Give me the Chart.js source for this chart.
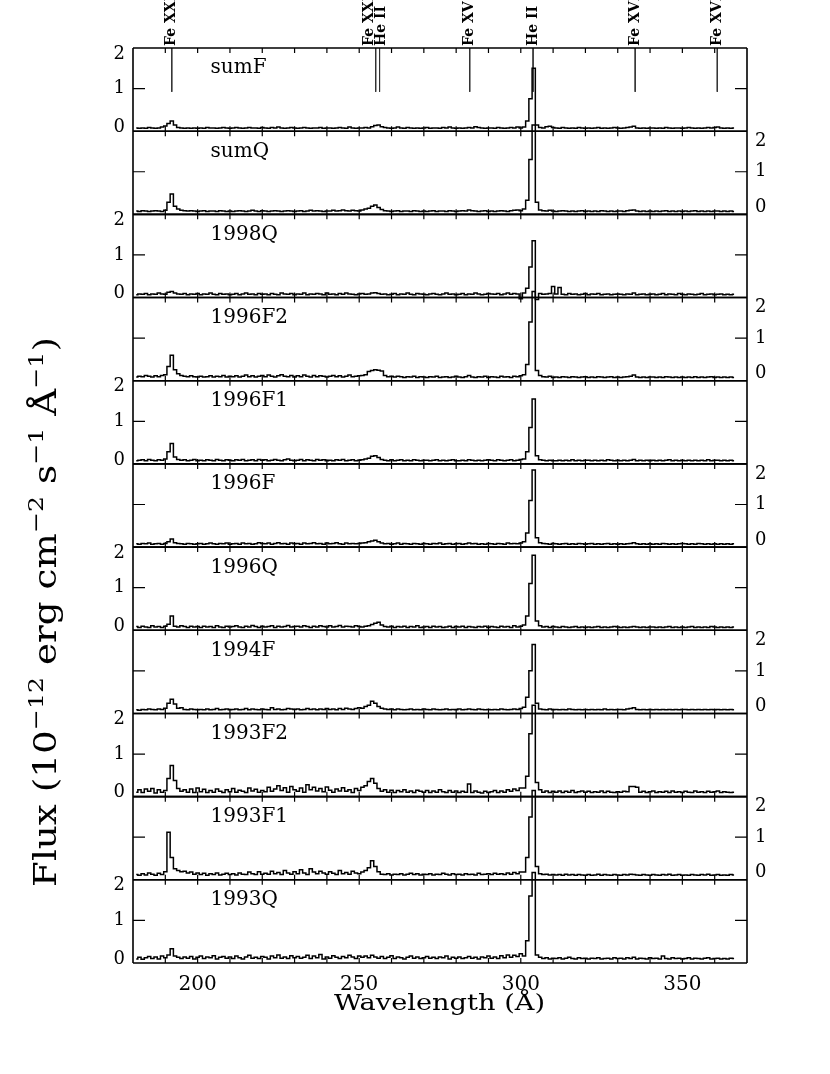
<!DOCTYPE html>
<html>
<head>
<meta charset="utf-8">
<script src="https://cdn.jsdelivr.net/npm/chart.js@4.4.1/dist/chart.umd.min.js"></script>
<style>
  body { margin: 0; background: #fff; }
  canvas { display: block; }
</style>
</head>
<body>
<canvas id="spectra" width="830" height="1074"></canvas>
<script>
// wavelength bins (Angstrom)
const wave = [
  181,182,183,184,185,186,187,188,189,190, 191,192,193,194,195,196,197,198,199,200,
  201,202,203,204,205,206,207,208,209,210, 211,212,213,214,215,216,217,218,219,220,
  221,222,223,224,225,226,227,228,229,230, 231,232,233,234,235,236,237,238,239,240,
  241,242,243,244,245,246,247,248,249,250, 251,252,253,254,255,256,257,258,259,260,
  261,262,263,264,265,266,267,268,269,270, 271,272,273,274,275,276,277,278,279,280,
  281,282,283,284,285,286,287,288,289,290, 291,292,293,294,295,296,297,298,299,300,
  301,302,303,304,305,306,307,308,309,310, 311,312,313,314,315,316,317,318,319,320,
  321,322,323,324,325,326,327,328,329,330, 331,332,333,334,335,336,337,338,339,340,
  341,342,343,344,345,346,347,348,349,350, 351,352,353,354,355,356,357,358,359,360,
  361,362,363,364,365,366
]

// fluxes, in units of 0.01 x 1e-12 erg cm-2 s-1 A-1, one value per bin
const FLUX_UNIT = 0.01

const fluxSumF = [
  3,2,3,2,4,3,2,3,5,8, 14,20,10,4,3,2,3,2,3,2,
  3,2,4,3,3,2,3,4,3,2, 3,4,3,2,3,4,3,3,2,4,
  3,2,4,3,5,3,2,3,4,3, 2,3,4,3,2,3,3,4,2,3,
  3,2,3,4,3,2,5,3,2,3, 3,4,3,6,9,10,6,4,3,2,
  3,5,3,2,4,3,2,3,2,3, 4,2,3,3,2,4,3,5,3,2,
  3,2,3,4,3,6,4,3,2,3, 3,2,4,3,2,3,4,3,5,3,
  5,20,75,150,10,4,3,6,7,4, 3,2,4,3,2,3,2,4,3,2,
  3,2,3,4,2,3,2,3,4,3, 2,3,4,5,7,3,2,3,2,3,
  3,2,3,2,4,3,2,3,3,2, 3,4,3,2,3,2,3,4,3,4,
  5,3,2,3,2,3
]
const fluxSumQ = [
  3,2,4,3,2,3,4,3,2,5, 25,45,15,8,5,4,3,4,3,2,
  3,4,2,3,3,2,4,3,2,3, 2,3,4,3,2,3,5,3,2,4,
  3,2,3,4,3,2,3,4,3,2, 3,4,2,3,5,3,4,3,2,3,
  3,5,3,4,6,4,3,5,4,3, 6,8,10,15,18,12,7,4,3,2,
  3,4,2,3,3,2,4,3,2,3, 2,3,4,2,3,3,2,4,3,2,
  3,4,3,6,4,3,2,3,4,2, 3,2,3,4,3,2,4,5,6,4,
  8,30,130,215,25,6,4,3,5,3, 2,3,4,3,2,3,2,3,4,2,
  3,2,3,2,4,3,2,3,2,3, 3,2,4,5,6,3,2,3,2,3,
  2,3,2,3,4,2,3,2,3,2, 3,2,3,4,2,3,2,3,2,3,
  3,2,3,2,3,2
]
const flux1998Q = [
  2,4,3,5,2,4,3,6,4,3, 8,10,6,4,3,5,2,4,3,5,
  2,4,3,6,3,2,5,3,4,2, 3,5,2,4,6,3,4,2,5,3,
  4,2,5,3,2,6,4,3,5,2, 4,3,6,2,4,3,5,4,2,6,
  3,4,2,5,3,6,4,3,2,4, 5,3,4,6,7,5,3,4,2,3,
  5,2,4,3,6,3,2,5,4,3, 2,4,5,3,2,4,6,3,4,2,
  3,5,2,4,3,6,4,2,3,5, 4,3,5,2,4,6,3,5,4,-8,
  6,18,70,135,-10,5,3,4,5,22, 4,20,3,2,5,3,4,2,3,5,
  2,4,3,5,2,3,4,2,3,4, 3,2,4,3,6,2,3,4,2,3,
  4,2,3,5,2,4,3,2,5,3, 2,4,3,2,3,5,2,3,4,2,
  3,4,2,3,2,3
]
const flux1996F2 = [
  4,6,5,8,6,4,7,5,8,10, 30,58,22,12,8,6,5,7,5,4,
  6,4,5,7,4,6,5,8,4,6, 5,7,4,6,9,5,7,4,6,8,
  5,9,6,4,7,10,6,5,8,4, 7,5,9,6,4,8,5,7,6,4,
  6,8,5,7,4,6,9,5,6,7, 8,10,18,20,22,21,19,8,5,6,
  4,6,5,3,5,4,6,3,5,4, 3,5,4,6,3,4,5,3,4,6,
  4,3,5,8,4,3,5,4,6,3, 5,4,3,6,4,5,3,6,5,7,
  10,35,140,215,20,8,5,4,6,3, 4,3,5,4,3,5,4,3,4,5,
  3,4,3,5,4,3,4,5,3,4, 3,4,5,6,9,4,3,4,3,4,
  4,3,4,3,5,4,3,4,3,4, 3,4,3,5,3,4,3,4,5,3,
  4,3,4,3,4,3
]
const flux1996F1 = [
  3,4,5,3,6,4,3,5,4,7, 25,45,12,6,4,5,3,4,6,3,
  4,3,5,4,3,6,4,3,5,4, 3,5,4,6,3,4,5,3,6,4,
  5,3,4,6,4,3,5,7,4,3, 4,6,3,5,4,3,6,4,5,3,
  4,3,5,4,6,3,4,5,3,4, 5,7,9,14,15,11,6,4,3,5,
  3,4,5,3,4,3,5,4,3,4, 4,3,4,5,3,4,3,4,5,3,
  3,4,3,5,4,3,4,3,4,5, 4,3,5,4,3,4,5,3,4,6,
  7,25,85,155,15,5,4,3,4,3, 3,4,3,4,3,5,3,4,3,4,
  4,3,4,3,4,3,5,4,3,4, 3,4,3,4,6,3,4,3,4,3,
  4,3,4,3,4,5,3,4,3,4, 3,4,3,4,3,4,3,5,3,4,
  4,3,4,3,4,3
]
const flux1996F = [
  3,2,4,3,5,2,3,4,2,4, 8,15,6,4,3,2,4,3,2,3,
  4,2,3,5,3,2,4,3,5,2, 3,4,2,5,3,4,2,3,6,4,
  3,5,2,4,6,3,4,2,5,3, 4,2,5,3,4,6,3,4,2,5,
  3,4,6,3,2,5,3,4,3,4, 5,6,8,10,12,8,5,3,4,2,
  3,5,2,4,3,2,4,3,2,4, 3,2,4,3,5,2,3,4,2,3,
  4,2,3,5,3,4,2,3,2,4, 3,2,4,3,2,5,3,4,3,5,
  8,30,110,185,18,6,4,3,2,4, 3,2,3,4,2,3,2,4,3,2,
  3,4,2,3,2,3,4,2,3,2, 3,2,3,4,6,3,2,3,2,3,
  2,3,2,4,3,2,3,2,3,4, 3,2,3,2,4,3,2,3,2,3,
  2,3,2,3,2,3
]
const flux1996Q = [
  4,2,5,3,2,6,3,4,2,5, 10,30,5,3,6,4,2,5,3,4,
  2,5,3,4,2,6,3,2,5,3, 4,6,3,2,5,3,7,4,2,5,
  3,4,6,2,5,3,4,7,3,4, 5,3,6,4,2,5,3,6,4,3,
  6,3,4,7,3,5,4,3,6,4, 3,5,6,9,12,15,8,4,3,5,
  2,4,3,5,2,4,3,6,2,3, 4,2,5,3,4,2,3,5,2,4,
  3,5,2,4,3,2,4,3,5,2, 4,3,2,5,3,4,2,6,3,5,
  8,30,110,180,18,6,3,4,2,4, 3,2,4,3,2,3,4,2,3,2,
  3,2,3,4,2,3,2,3,4,3, 2,3,2,3,4,3,2,3,2,3,
  3,2,3,2,3,4,2,3,2,3, 2,3,4,2,3,2,3,2,4,3,
  2,3,2,3,2,3
]
const flux1994F = [
  4,3,5,4,6,5,4,6,5,8, 20,30,18,8,9,5,4,6,5,4,
  5,4,6,4,5,7,4,5,6,4, 5,6,4,5,7,4,6,5,4,6,
  5,4,9,5,6,4,5,7,6,5, 6,4,5,7,5,6,4,6,5,7,
  5,6,4,7,5,8,6,5,7,9, 8,12,15,25,20,12,8,6,5,6,
  4,6,5,4,5,6,4,5,4,6, 5,4,6,5,4,5,6,4,5,4,
  6,4,5,6,5,4,6,5,4,5, 4,5,4,6,5,4,5,6,5,7,
  10,35,100,165,20,6,5,4,6,4, 5,4,5,4,6,5,4,5,4,5,
  4,5,4,5,4,6,4,5,4,5, 5,4,6,7,9,5,4,5,4,5,
  4,5,4,5,4,5,4,5,4,5, 5,4,5,4,5,4,5,4,5,4,
  5,4,5,4,5,4
]
const flux1993F2 = [
  6,12,5,14,8,15,4,12,6,10, 40,72,35,15,8,12,6,14,5,16,
  7,13,5,10,6,14,8,5,12,7, 15,6,11,8,5,16,9,13,6,10,
  7,18,8,14,22,10,17,6,20,12, 8,16,6,24,12,18,9,15,7,19,
  11,6,14,9,17,8,12,5,15,10, 18,22,32,40,28,15,8,12,6,11,
  5,10,7,12,6,9,5,11,8,6, 10,5,9,6,12,7,5,10,6,9,
  5,8,6,26,5,9,6,4,8,5, 7,10,5,9,6,12,8,14,10,16,
  16,45,150,220,30,12,6,9,5,8, 6,9,5,8,6,10,5,7,9,6,
  8,5,7,6,9,5,8,6,5,7, 6,8,7,20,20,18,6,8,5,7,
  9,5,7,6,8,5,9,6,7,5, 8,6,5,9,6,7,5,8,6,7,
  9,5,7,6,5,6
]
const flux1993F1 = [
  8,6,10,7,12,9,6,11,8,15, 112,50,22,18,15,16,12,14,9,12,
  8,11,6,10,8,12,7,9,11,8, 10,7,12,9,8,14,10,8,15,9,
  11,9,16,10,13,8,18,12,9,15, 10,20,12,8,22,14,10,16,12,9,
  15,11,8,18,10,13,9,16,12,10, 14,18,25,42,28,15,9,8,10,7,
  9,8,10,7,9,11,8,10,7,9, 8,10,7,9,8,11,9,7,10,8,
  9,7,10,8,9,7,11,8,9,10, 8,11,9,10,8,12,9,13,10,14,
  14,50,150,215,28,10,8,9,7,8, 7,8,6,9,7,8,6,8,7,6,
  8,6,7,9,6,8,7,6,8,7, 6,8,7,9,8,7,6,8,7,6,
  8,7,6,8,7,9,6,7,8,6, 7,6,8,7,6,8,7,9,6,7,
  8,6,7,6,8,7
]
const flux1993Q = [
  5,9,4,8,11,6,10,5,12,8, 15,30,12,9,6,10,7,11,5,9,
  12,6,10,8,13,5,9,11,7,10, 6,12,8,5,10,14,7,9,6,11,
  9,5,12,8,15,7,10,6,13,8, 11,7,9,14,6,12,8,16,5,10,
  7,13,9,6,11,8,14,10,6,12, 9,12,8,14,10,7,11,6,9,13,
  6,10,8,5,9,12,7,10,6,8, 11,7,9,6,10,8,12,5,9,7,
  10,6,8,11,7,9,5,10,8,12, 7,10,6,13,8,15,9,14,11,18,
  12,50,160,218,15,9,6,8,5,7, 6,8,5,7,9,6,5,8,6,7,
  5,7,6,8,5,6,7,5,8,6, 7,5,8,6,9,5,7,6,5,8,
  6,7,5,12,6,5,8,6,7,5, 6,8,5,7,6,5,7,8,5,6,
  7,5,6,5,7,6
]

const panelNames = ['sumF', 'sumQ', '1998Q', '1996F2', '1996F1', '1996F', '1996Q', '1994F', '1993F2', '1993F1', '1993Q']
const panelFlux = [fluxSumF, fluxSumQ, flux1998Q, flux1996F2, flux1996F1, flux1996F, flux1996Q, flux1994F, flux1993F2, flux1993F1, flux1993Q]

// line identifications marked on the top panel
const lineWave = [192.0, 255.1, 256.3, 284.2, 303.8, 335.4, 360.8]
const lineIon = ['Fe XXIV', 'Fe XXIV', 'He II', 'Fe XV', 'He II', 'Fe XVI', 'Fe XVI']

const waveMin = 180
const waveMax = 370
const waveStep = 10
const waveLabels = [200, 250, 300, 350]
const fluxMin = -0.05
const fluxMax = 2
const fluxTicks = [0, 1, 2]
const markTop = 2
const markBottom = 0.92
const nameWave = 204
const nameLevel = 1.5

const FONT = '"DejaVu Serif", "Liberation Serif", serif'
Chart.defaults.font.family = FONT
Chart.defaults.color = '#000'

const datasets = panelFlux.map((flux, p) => ({
  label: panelNames[p],
  data: wave.map((w, i) => ({ x: w, y: flux[i] * FLUX_UNIT })),
  yAxisID: 'y' + p,
  borderColor: '#000',
  borderWidth: 1.5,
  pointRadius: 0,
  stepped: 'middle',
  fill: false,
  clip: false
}))

lineWave.forEach((w, k) => {
  datasets.push({
    label: lineIon[k],
    data: [{ x: w, y: markTop }, { x: w, y: markBottom }],
    yAxisID: 'y0',
    borderColor: '#333',
    borderWidth: 1,
    pointRadius: 0
  })
})

const scales = {
  x: {
    type: 'linear',
    position: 'bottom',
    min: waveMin,
    max: waveMax,
    grid: { display: false, drawTicks: false },
    border: { display: false },
    ticks: {
      stepSize: waveStep,
      autoSkip: false,
      maxRotation: 0,
      padding: 10,
      font: { size: 20 },
      callback: v => waveLabels.includes(v) ? String(v) : ''
    },
    afterFit: s => { s.height = 60 }
  }
}

panelNames.forEach((name, p) => {
  const side = {
    type: 'linear',
    min: fluxMin,
    max: fluxMax,
    stackWeight: 1,
    grid: { display: false, drawTicks: false },
    border: { display: false },
    ticks: { display: false },
    afterBuildTicks: s => { s.ticks = fluxTicks.map(v => ({ value: v })) },
    afterFit: s => { s.width = 34 }
  }
  scales['y' + p] = Object.assign({}, side, { position: 'left', stack: 'left', weight: 20 - p })
  scales['r' + p] = Object.assign({}, side, { position: 'right', stack: 'right', weight: p })
})

// draws text stretched along its own direction
function stretchedText(ctx, text, x, y, angle, stretch) {
  ctx.save()
  ctx.translate(x, y)
  ctx.rotate(angle)
  ctx.scale(stretch, 1)
  ctx.fillText(text, 0, 0)
  ctx.restore()
}

const framePlugin = {
  id: 'frames',
  afterDraw(chart) {
    const ctx = chart.ctx
    const area = chart.chartArea
    const xs = chart.scales.x
    ctx.save()
    ctx.strokeStyle = '#000'
    ctx.fillStyle = '#000'

    panelNames.forEach((name, p) => {
      const ys = chart.scales['y' + p]
      ctx.lineWidth = 1.6
      ctx.beginPath()
      ctx.moveTo(area.left, ys.top); ctx.lineTo(area.right, ys.top)
      ctx.moveTo(area.left, ys.bottom); ctx.lineTo(area.right, ys.bottom)
      ctx.stroke()

      // wavelength ticks pointing in from both edges of the panel
      ctx.lineWidth = 1.2
      ctx.beginPath()
      xs.ticks.forEach(t => {
        if (t.value <= xs.min || t.value >= xs.max) return
        const px = xs.getPixelForValue(t.value)
        ctx.moveTo(px, ys.top); ctx.lineTo(px, ys.top + 5)
        ctx.moveTo(px, ys.bottom); ctx.lineTo(px, ys.bottom - 5)
      })
      // flux ticks at interior values, both sides
      ys.ticks.forEach(t => {
        if (t.value <= fluxTicks[0] || t.value >= fluxTicks[fluxTicks.length - 1]) return
        const py = ys.getPixelForValue(t.value)
        ctx.moveTo(area.left, py); ctx.lineTo(area.left + 12, py)
        ctx.moveTo(area.right, py); ctx.lineTo(area.right - 12, py)
      })
      ctx.stroke()

      // flux numbers: left on even panels, right on odd panels, kept inside the panel
      ctx.font = '18px ' + FONT
      ctx.textBaseline = 'middle'
      const onLeft = p % 2 === 0
      ctx.textAlign = onLeft ? 'right' : 'left'
      ys.ticks.forEach(t => {
        let py = ys.getPixelForValue(t.value)
        if (onLeft) py = Math.min(Math.max(py, ys.top + 6), ys.bottom - 4)
        else py = Math.min(Math.max(py, ys.top + 10), ys.bottom - 7)
        ctx.fillText(String(t.value), onLeft ? area.left - 8 : area.right + 8, py)
      })

      ctx.font = '20px ' + FONT
      ctx.textAlign = 'left'
      ctx.textBaseline = 'middle'
      ctx.fillText(name, xs.getPixelForValue(nameWave), ys.getPixelForValue(nameLevel))
    })

    ctx.lineWidth = 1.6
    ctx.beginPath()
    ctx.moveTo(area.left, area.top); ctx.lineTo(area.left, area.bottom)
    ctx.moveTo(area.right, area.top); ctx.lineTo(area.right, area.bottom)
    ctx.stroke()

    // ion labels above the top panel, reading upwards
    ctx.font = 'bold 14px ' + FONT
    ctx.textAlign = 'left'
    ctx.textBaseline = 'middle'
    const px = lineWave.map(w => xs.getPixelForValue(w))
    px.forEach((x, k) => {
      let lx = x
      if (k + 1 < px.length && px[k + 1] - x < 8) lx = x - 6
      else if (k > 0 && x - px[k - 1] < 8) lx = x + 2
      stretchedText(ctx, lineIon[k], lx, area.top - 2, -Math.PI / 2, 1)
    })

    // x title
    ctx.font = '22px ' + FONT
    ctx.textAlign = 'center'
    ctx.textBaseline = 'middle'
    const xTitle = 'Wavelength (\u00c5)'
    const xStretch = 211 / ctx.measureText(xTitle).width
    stretchedText(ctx, xTitle, (area.left + area.right) / 2 - 0.5, area.bottom + 41, 0, xStretch)

    // y title with superscripts
    const parts = [['Flux (10', 0], ['\u221212', 1], [' erg cm', 0], ['\u22122', 1], [' s', 0], ['\u22121', 1], [' \u00c5', 0], ['\u22121', 1], [')', 0]]
    const big = '31px ' + FONT
    const small = '21px ' + FONT
    let total = 0
    parts.forEach(([t, sup]) => { ctx.font = sup ? small : big; total += ctx.measureText(t).width })
    const yStretch = 550 / total
    ctx.save()
    ctx.translate(45, 612)
    ctx.rotate(-Math.PI / 2)
    ctx.scale(yStretch, 1)
    ctx.textAlign = 'left'
    ctx.textBaseline = 'alphabetic'
    let cx = -total / 2
    parts.forEach(([t, sup]) => {
      ctx.font = sup ? small : big
      ctx.fillText(t, cx, sup ? -2 : 11)
      cx += ctx.measureText(t).width
    })
    ctx.restore()
    ctx.restore()
  }
}

new Chart(document.getElementById('spectra'), {
  type: 'line',
  data: { datasets },
  options: {
    responsive: false,
    animation: false,
    devicePixelRatio: 1,
    events: [],
    layout: { padding: { left: 99, right: 49, top: 48, bottom: 51 } },
    plugins: { legend: { display: false }, tooltip: { enabled: false } },
    scales
  },
  plugins: [framePlugin]
})
</script>
</body>
</html>
